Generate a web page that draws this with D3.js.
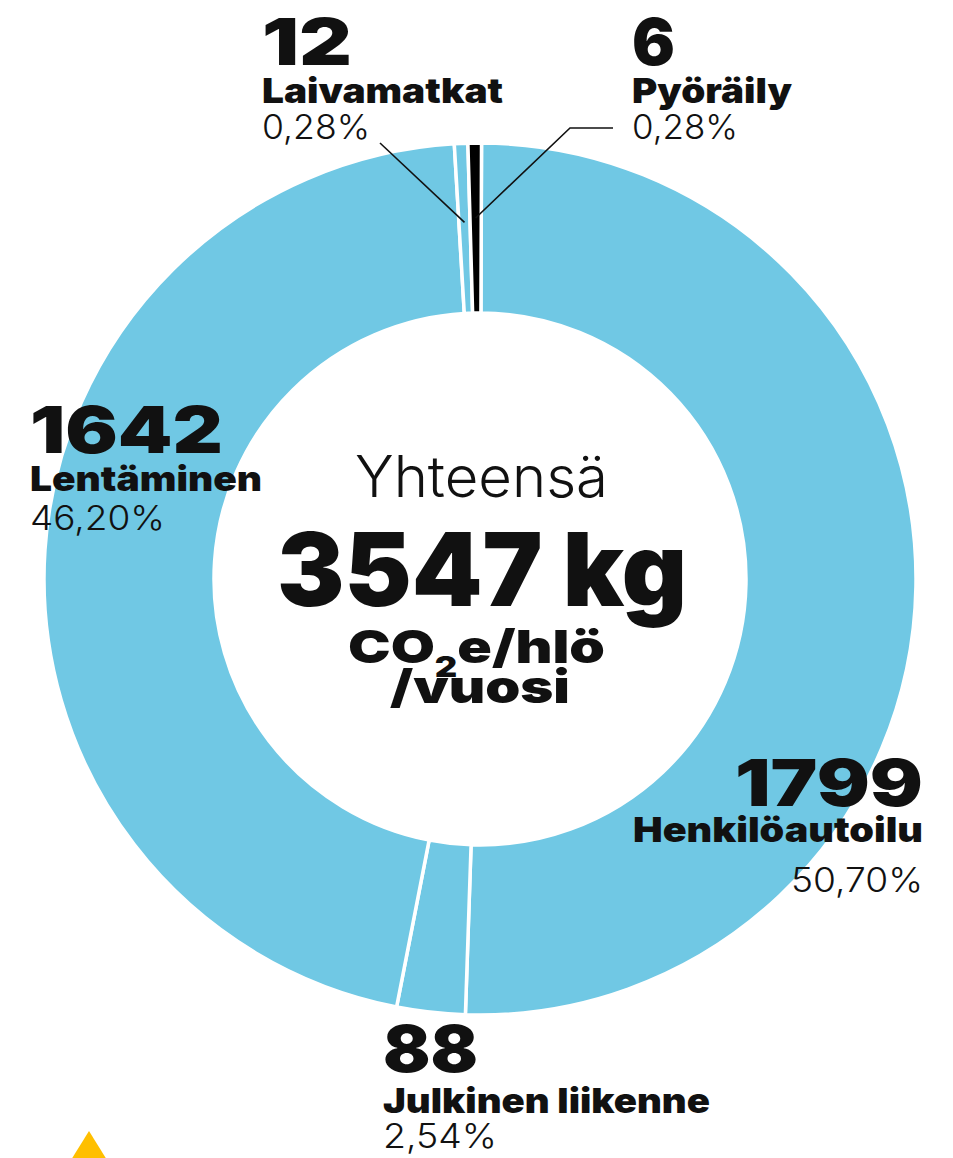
<!DOCTYPE html>
<html lang="fi">
<head>
  <meta charset="UTF-8">
  <title>Liikkumisen päästöt</title>
  <style>
    body { margin: 0; background: #fff; }
    text { font-family: Inter, Lato, "DejaVu Sans", sans-serif; fill: #111; }
    .num { font-weight: 900; }
    .name { font-weight: 900; }
    .pct { font-weight: 300; fill: #111; }
    .leader { stroke: #111; stroke-width: 1.6; fill: none; }
  </style>
  <script src="https://d3js.org/d3.v7.min.js"></script>
</head>
<body>
<div id="chart"></div>
<script>
  // Data
  var categories = ["Henkilöautoilu", "Julkinen liikenne", "Lentäminen", "Laivamatkat", "Pyöräily"];
  var kgValues = [1799, 88, 1642, 12, 6];
  var shares = [50.70, 2.54, 46.20, 0.28, 0.28];
  var shareLabels = ["50,70%", "2,54%", "46,20%", "0,28%", "0,28%"];
  var sliceColors = ["#70c8e4", "#70c8e4", "#70c8e4", "#70c8e4", "#000000"];
  var total = 3547;

  var width = 953;
  var height = 1158;
  var cx = 480, cy = 579;
  var outerR = 436, innerR = 266;
  var minShare = 0.5; // tiny slices are drawn a little wider so they stay visible

  var svg = d3.select("#chart").append("svg")
    .attr("width", width)
    .attr("height", height);

  var slices = categories.map((c, i) => ({ name: c, kg: kgValues[i], share: shares[i], label: shareLabels[i], color: sliceColors[i] }));

  var start = 0.2 * Math.PI / 180;
  var pie = d3.pie()
    .sort(null)
    .value(d => Math.max(d.share, minShare))
    .startAngle(start)
    .endAngle(start + 2 * Math.PI);

  var arc = d3.arc()
    .innerRadius(innerR)
    .outerRadius(outerR);

  var arcs = pie(slices);

  var g = svg.append("g").attr("transform", `translate(${cx},${cy})`);

  g.selectAll("path")
    .data(arcs)
    .enter().append("path")
    .attr("d", arc)
    .attr("fill", d => d.data.color)
    .attr("stroke", "#fff")
    .attr("stroke-width", 3.5);

  // leader lines for the two thin slices
  function pointAt(angle, r) {
    return [cx + r * Math.sin(angle), cy - r * Math.cos(angle)];
  }
  var laiva = arcs[3], pyora = arcs[4];
  var pL = pointAt((laiva.startAngle + laiva.endAngle) / 2, 357);
  var pP = pointAt((pyora.startAngle + pyora.endAngle) / 2, 361);

  svg.append("path").attr("class", "leader")
    .attr("d", d3.line()([[380, 143], pL]));
  svg.append("path").attr("class", "leader")
    .attr("d", d3.line()([[613, 128], [570, 128], pP]));

  // text helper: fit every label to the width it has in the original
  function label(txt, cls, x, y, size, w, anchor) {
    var t = svg.append("text")
      .attr("class", cls)
      .attr("x", x)
      .attr("y", y)
      .attr("font-size", size)
      .attr("text-anchor", anchor || "start")
      .text(txt);
    if (w) t.attr("textLength", w).attr("lengthAdjust", "spacingAndGlyphs");
    return t;
  }

  // category labels: x, baselines of number / name / share, and widths
  var labelPos = [
    { x: 923, yNum: 806, yName: 842, yPct: 892, wNum: 188, wName: 290, wPct: 132, anchor: "end" },
    { x: 383, yNum: 1072, yName: 1113, yPct: 1148, wNum: 95, wName: 327, wPct: 114, anchor: "start" },
    { x: 30, yNum: 453, yName: 491, yPct: 530, wNum: 193, wName: 232, wPct: 135, anchor: "start" },
    { x: 262, yNum: 65, yName: 103, yPct: 139, wNum: 90, wName: 241, wPct: 108, anchor: "start" },
    { x: 632, yNum: 65, yName: 103, yPct: 139, wNum: 43, wName: 160, wPct: 106, anchor: "start" }
  ];

  slices.forEach((d, i) => {
    var p = labelPos[i];
    label(String(d.kg), "num", p.x, p.yNum, 65, p.wNum, p.anchor);
    label(d.name, "name", p.x, p.yName, 34, p.wName, p.anchor);
    label(d.label, "pct", p.x, p.yPct, 34, p.wPct, p.anchor);
  });

  // centre text
  label("Yhteensä", "pct", 355, 497, 57, 253);
  label(total + " kg", "num", 277, 606, 102, 410);

  var unit = svg.append("text")
    .attr("class", "num")
    .attr("x", 348)
    .attr("y", 663)
    .attr("font-size", 46);
  unit.append("tspan").text("CO");
  unit.append("tspan").attr("font-size", 28).attr("dy", 14).text("2");
  unit.append("tspan").attr("dy", -14).text("e/hlö");
  unit.attr("textLength", 257).attr("lengthAdjust", "spacingAndGlyphs");

  label("/vuosi", "num", 390, 703, 46, 180);

  // yellow marker bottom-left
  svg.append("path")
    .attr("d", d3.line()([[89, 1131], [71, 1160], [107, 1160]]) + "Z")
    .attr("fill", "#ffbf00");
</script>
</body>
</html>
